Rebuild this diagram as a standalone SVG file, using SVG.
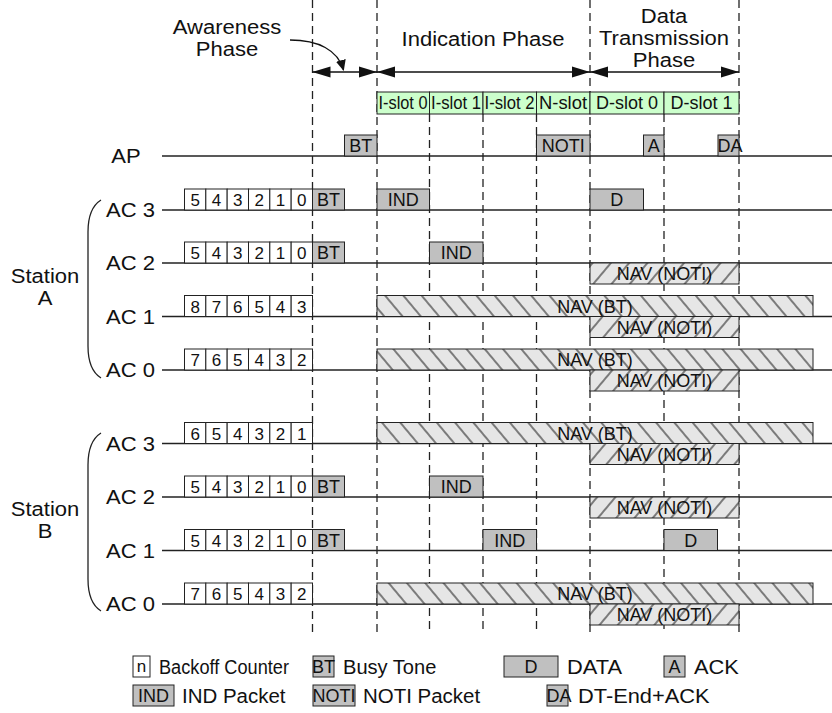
<svg xmlns="http://www.w3.org/2000/svg" xmlns:xlink="http://www.w3.org/1999/xlink" width="832" height="713" viewBox="0 0 832 713">
<style>
text{font-family:"Liberation Sans",Arial,sans-serif;fill:#111}
.big{font-size:19.5px}
.mid{text-anchor:middle}
.end{text-anchor:end}
.sm{font-size:18px}
.dg{font-size:17px;text-anchor:middle}
.leg{font-size:19.5px}
.row{stroke:#222;stroke-width:1.3;fill:none}
.dash{stroke:#222;stroke-width:1.3;stroke-dasharray:8,5;fill:none}
.bo{fill:#fff;stroke:#222;stroke-width:1}
.pk{fill:#c0c0c0;stroke:#222;stroke-width:1}
.slot{fill:#ccffcc;stroke:#222;stroke-width:1}
.navb{fill:url(#hb);stroke:#222;stroke-width:1}
.navn{fill:url(#hn);stroke:#222;stroke-width:1}
.arrow{stroke:#111;stroke-width:1.5;fill:none;marker-start:url(#ah);marker-end:url(#ah)}
.brace{stroke:#222;stroke-width:1.3;fill:none}
</style>
<defs>
<marker id="ah" markerUnits="userSpaceOnUse" markerWidth="18" markerHeight="12" refX="18" refY="6" orient="auto-start-reverse">
<path d="M0,0.5 L18,6 L0,11.5 z" fill="#111"/>
</marker>
<marker id="ah2" markerUnits="userSpaceOnUse" markerWidth="11" markerHeight="10" refX="10" refY="5" orient="auto">
<path d="M0,0 L11,5 L0,10 z" fill="#111"/>
</marker>
<pattern id="hb" patternUnits="userSpaceOnUse" width="14" height="14" patternTransform="rotate(-40)">
<rect width="14" height="14" fill="#e6e6e6"/>
<line x1="7" y1="-1" x2="7" y2="15" stroke="#333" stroke-width="1.2"/>
</pattern>
<pattern id="hn" patternUnits="userSpaceOnUse" width="14" height="14" patternTransform="rotate(40)">
<rect width="14" height="14" fill="#e6e6e6"/>
<line x1="7" y1="-1" x2="7" y2="15" stroke="#333" stroke-width="1.2"/>
</pattern>
<g id="bo6">
<rect class="bo" x="0" y="0" width="21.33" height="21"/>
<rect class="bo" x="21.33" y="0" width="21.33" height="21"/>
<rect class="bo" x="42.67" y="0" width="21.33" height="21"/>
<rect class="bo" x="64" y="0" width="21.33" height="21"/>
<rect class="bo" x="85.33" y="0" width="21.33" height="21"/>
<rect class="bo" x="106.67" y="0" width="21.33" height="21"/>
</g>
</defs>
<rect width="832" height="713" fill="#fff"/>

<g id="connectors">
<line class="dash" x1="312.5" y1="0" x2="312.5" y2="634"/>
<line class="dash" x1="377" y1="0" x2="377" y2="634"/>
<line class="dash" x1="429.5" y1="114" x2="429.5" y2="634"/>
<line class="dash" x1="483" y1="114" x2="483" y2="634"/>
<line class="dash" x1="536.5" y1="114" x2="536.5" y2="634"/>
<line class="dash" x1="590" y1="0" x2="590" y2="634"/>
<line class="dash" x1="664" y1="114" x2="664" y2="634"/>
<line class="dash" x1="739" y1="0" x2="739" y2="634"/>
<line class="arrow" x1="312.5" y1="72" x2="377" y2="72"/>
<line class="arrow" x1="377" y1="72" x2="590" y2="72"/>
<line class="arrow" x1="590" y1="72" x2="739" y2="72"/>
<path d="M290,40 C318,40 338,50 343.5,70" stroke="#111" stroke-width="1.3" fill="none" marker-end="url(#ah2)"/>
<line class="row" x1="162" y1="156" x2="832" y2="156"/>
<line class="row" x1="162" y1="210" x2="832" y2="210"/>
<line class="row" x1="162" y1="263" x2="832" y2="263"/>
<line class="row" x1="162" y1="316.5" x2="832" y2="316.5"/>
<line class="row" x1="162" y1="370" x2="832" y2="370"/>
<line class="row" x1="162" y1="443.5" x2="832" y2="443.5"/>
<line class="row" x1="162" y1="497" x2="832" y2="497"/>
<line class="row" x1="162" y1="550.5" x2="832" y2="550.5"/>
<line class="row" x1="162" y1="604" x2="832" y2="604"/>
</g>

<g id="phase-labels">
<text class="big mid" transform="translate(227,34) scale(1.13,1)">Awareness</text>
<text class="big mid" transform="translate(227,56) scale(1.13,1)">Phase</text>
<text class="big mid" transform="translate(483,46) scale(1.13,1)">Indication Phase</text>
<text class="big mid" transform="translate(664,23) scale(1.13,1)">Data</text>
<text class="big mid" transform="translate(664,45) scale(1.13,1)">Transmission</text>
<text class="big mid" transform="translate(664,67) scale(1.13,1)">Phase</text>
</g>

<g id="slots">
<rect class="slot" x="377" y="92" width="52.5" height="22"/>
<rect class="slot" x="429.5" y="92" width="53.5" height="22"/>
<rect class="slot" x="483" y="92" width="53.5" height="22"/>
<rect class="slot" x="536.5" y="92" width="53.5" height="22"/>
<rect class="slot" x="590" y="92" width="74" height="22"/>
<rect class="slot" x="664" y="92" width="75" height="22"/>
<text class="sm" x="378.5" y="109" textLength="49" lengthAdjust="spacingAndGlyphs">I-slot 0</text>
<text class="sm" x="431" y="109" textLength="50" lengthAdjust="spacingAndGlyphs">I-slot 1</text>
<text class="sm" x="484.5" y="109" textLength="50" lengthAdjust="spacingAndGlyphs">I-slot 2</text>
<text class="sm" x="539" y="109" textLength="48" lengthAdjust="spacingAndGlyphs">N-slot</text>
<text class="sm mid" x="627" y="109">D-slot 0</text>
<text class="sm mid" x="701.5" y="109">D-slot 1</text>
</g>

<g id="row-AP">
<text class="big mid" transform="translate(126,163) scale(1.13,1)">AP</text>
<rect class="pk" x="344.5" y="135" width="32.5" height="21"/>
<text class="sm mid" x="360.75" y="152">BT</text>
<rect class="pk" x="536.5" y="135" width="53.5" height="21"/>
<text class="sm mid" x="563.25" y="152">NOTI</text>
<rect class="pk" x="643.5" y="135" width="20.5" height="21"/>
<text class="sm mid" x="653.75" y="152">A</text>
<rect class="pk" x="718" y="135" width="21" height="21"/>
<text class="sm" x="717.5" y="152">DA</text>
</g>

<g id="station-A">
<path class="brace" d="M101,200 C93,205 88,215 88,232 L88,346 C88,363 93,373 101,378"/>
<text class="big mid" transform="translate(45,283) scale(1.13,1)">Station</text>
<text class="big mid" transform="translate(45,305) scale(1.13,1)">A</text>
</g>

<g id="row-A-AC3">
<text class="big end" transform="translate(155,217) scale(1.13,1)">AC 3</text>
<use xlink:href="#bo6" x="184.5" y="189"/>
<text class="dg" y="206"><tspan x="195.17">5</tspan><tspan x="216.5">4</tspan><tspan x="237.83">3</tspan><tspan x="259.17">2</tspan><tspan x="280.5">1</tspan><tspan x="301.83">0</tspan></text>
<rect class="pk" x="312.5" y="189" width="32" height="21"/>
<text class="sm mid" x="328.5" y="206">BT</text>
<rect class="pk" x="377" y="189" width="52.5" height="21"/>
<text class="sm mid" x="403.25" y="206">IND</text>
<rect class="pk" x="590" y="189" width="53.5" height="21"/>
<text class="sm mid" x="616.75" y="206">D</text>
</g>

<g id="row-A-AC2">
<text class="big end" transform="translate(155,270) scale(1.13,1)">AC 2</text>
<use xlink:href="#bo6" x="184.5" y="242"/>
<text class="dg" y="259"><tspan x="195.17">5</tspan><tspan x="216.5">4</tspan><tspan x="237.83">3</tspan><tspan x="259.17">2</tspan><tspan x="280.5">1</tspan><tspan x="301.83">0</tspan></text>
<rect class="pk" x="312.5" y="242" width="32" height="21"/>
<text class="sm mid" x="328.5" y="259">BT</text>
<rect class="pk" x="429.5" y="242" width="53.5" height="21"/>
<text class="sm mid" x="456.25" y="259">IND</text>
<rect class="navn" x="590" y="263" width="149" height="21"/>
<text class="sm mid" x="664.5" y="280">NAV (NOTI)</text>
</g>

<g id="row-A-AC1">
<text class="big end" transform="translate(155,323.5) scale(1.13,1)">AC 1</text>
<use xlink:href="#bo6" x="184.5" y="295.5"/>
<text class="dg" y="312.5"><tspan x="195.17">8</tspan><tspan x="216.5">7</tspan><tspan x="237.83">6</tspan><tspan x="259.17">5</tspan><tspan x="280.5">4</tspan><tspan x="301.83">3</tspan></text>
<rect class="navb" x="377" y="295.5" width="436" height="21"/>
<text class="sm mid" x="595" y="312.5">NAV (BT)</text>
<rect class="navn" x="590" y="316.5" width="149" height="21"/>
<text class="sm mid" x="664.5" y="333.5">NAV (NOTI)</text>
</g>

<g id="row-A-AC0">
<text class="big end" transform="translate(155,377) scale(1.13,1)">AC 0</text>
<use xlink:href="#bo6" x="184.5" y="349"/>
<text class="dg" y="366"><tspan x="195.17">7</tspan><tspan x="216.5">6</tspan><tspan x="237.83">5</tspan><tspan x="259.17">4</tspan><tspan x="280.5">3</tspan><tspan x="301.83">2</tspan></text>
<rect class="navb" x="377" y="349" width="436" height="21"/>
<text class="sm mid" x="595" y="366">NAV (BT)</text>
<rect class="navn" x="590" y="370" width="149" height="21"/>
<text class="sm mid" x="664.5" y="387">NAV (NOTI)</text>
</g>

<g id="station-B">
<path class="brace" d="M101,433 C93,438 88,448 88,465 L88,579 C88,596 93,606 101,611"/>
<text class="big mid" transform="translate(45,516) scale(1.13,1)">Station</text>
<text class="big mid" transform="translate(45,538) scale(1.13,1)">B</text>
</g>

<g id="row-B-AC3">
<text class="big end" transform="translate(155,450.5) scale(1.13,1)">AC 3</text>
<use xlink:href="#bo6" x="184.5" y="422.5"/>
<text class="dg" y="439.5"><tspan x="195.17">6</tspan><tspan x="216.5">5</tspan><tspan x="237.83">4</tspan><tspan x="259.17">3</tspan><tspan x="280.5">2</tspan><tspan x="301.83">1</tspan></text>
<rect class="navb" x="377" y="422.5" width="436" height="21"/>
<text class="sm mid" x="595" y="439.5">NAV (BT)</text>
<rect class="navn" x="590" y="443.5" width="149" height="21"/>
<text class="sm mid" x="664.5" y="460.5">NAV (NOTI)</text>
</g>

<g id="row-B-AC2">
<text class="big end" transform="translate(155,504) scale(1.13,1)">AC 2</text>
<use xlink:href="#bo6" x="184.5" y="476"/>
<text class="dg" y="493"><tspan x="195.17">5</tspan><tspan x="216.5">4</tspan><tspan x="237.83">3</tspan><tspan x="259.17">2</tspan><tspan x="280.5">1</tspan><tspan x="301.83">0</tspan></text>
<rect class="pk" x="312.5" y="476" width="32" height="21"/>
<text class="sm mid" x="328.5" y="493">BT</text>
<rect class="pk" x="429.5" y="476" width="53.5" height="21"/>
<text class="sm mid" x="456.25" y="493">IND</text>
<rect class="navn" x="590" y="497" width="149" height="21"/>
<text class="sm mid" x="664.5" y="514">NAV (NOTI)</text>
</g>

<g id="row-B-AC1">
<text class="big end" transform="translate(155,557.5) scale(1.13,1)">AC 1</text>
<use xlink:href="#bo6" x="184.5" y="529.5"/>
<text class="dg" y="546.5"><tspan x="195.17">5</tspan><tspan x="216.5">4</tspan><tspan x="237.83">3</tspan><tspan x="259.17">2</tspan><tspan x="280.5">1</tspan><tspan x="301.83">0</tspan></text>
<rect class="pk" x="312.5" y="529.5" width="32" height="21"/>
<text class="sm mid" x="328.5" y="546.5">BT</text>
<rect class="pk" x="483" y="529.5" width="53.5" height="21"/>
<text class="sm mid" x="509.75" y="546.5">IND</text>
<rect class="pk" x="664" y="529.5" width="53.5" height="21"/>
<text class="sm mid" x="690.75" y="546.5">D</text>
</g>

<g id="row-B-AC0">
<text class="big end" transform="translate(155,611) scale(1.13,1)">AC 0</text>
<use xlink:href="#bo6" x="184.5" y="583"/>
<text class="dg" y="600"><tspan x="195.17">7</tspan><tspan x="216.5">6</tspan><tspan x="237.83">5</tspan><tspan x="259.17">4</tspan><tspan x="280.5">3</tspan><tspan x="301.83">2</tspan></text>
<rect class="navb" x="377" y="583" width="436" height="21"/>
<text class="sm mid" x="595" y="600">NAV (BT)</text>
<rect class="navn" x="590" y="604" width="149" height="21"/>
<text class="sm mid" x="664.5" y="621">NAV (NOTI)</text>
</g>

<g id="legend">
<rect class="bo" x="133" y="656" width="17" height="21"/>
<text class="dg" x="141.5" y="672">n</text>
<text class="leg" x="159" y="673.5" textLength="130" lengthAdjust="spacingAndGlyphs">Backoff Counter</text>
<rect class="pk" x="313" y="656" width="21" height="21"/>
<text class="sm mid" x="323.5" y="673">BT</text>
<text class="leg" transform="translate(343,673.5) scale(1.03,1)">Busy Tone</text>
<rect class="pk" x="504" y="656" width="54" height="21"/>
<text class="sm mid" x="531" y="673">D</text>
<text class="leg" transform="translate(567,673.5) scale(1.12,1)">DATA</text>
<rect class="pk" x="664" y="656" width="21" height="21"/>
<text class="sm mid" x="674.5" y="673">A</text>
<text class="leg" transform="translate(694,673.5) scale(1.12,1)">ACK</text>
<rect class="pk" x="133" y="685" width="41" height="21"/>
<text class="sm mid" x="153.5" y="702">IND</text>
<text class="leg" transform="translate(182,702.5) scale(1.05,1)">IND Packet</text>
<rect class="pk" x="313" y="685" width="42" height="21"/>
<text class="sm mid" x="334" y="702">NOTI</text>
<text class="leg" transform="translate(363,702.5) scale(1.05,1)">NOTI Packet</text>
<rect class="pk" x="547" y="685" width="21" height="21"/>
<text class="sm" x="546.5" y="702">DA</text>
<text class="leg" transform="translate(578,702.5) scale(1.12,1)">DT-End+ACK</text>
</g>
</svg>
